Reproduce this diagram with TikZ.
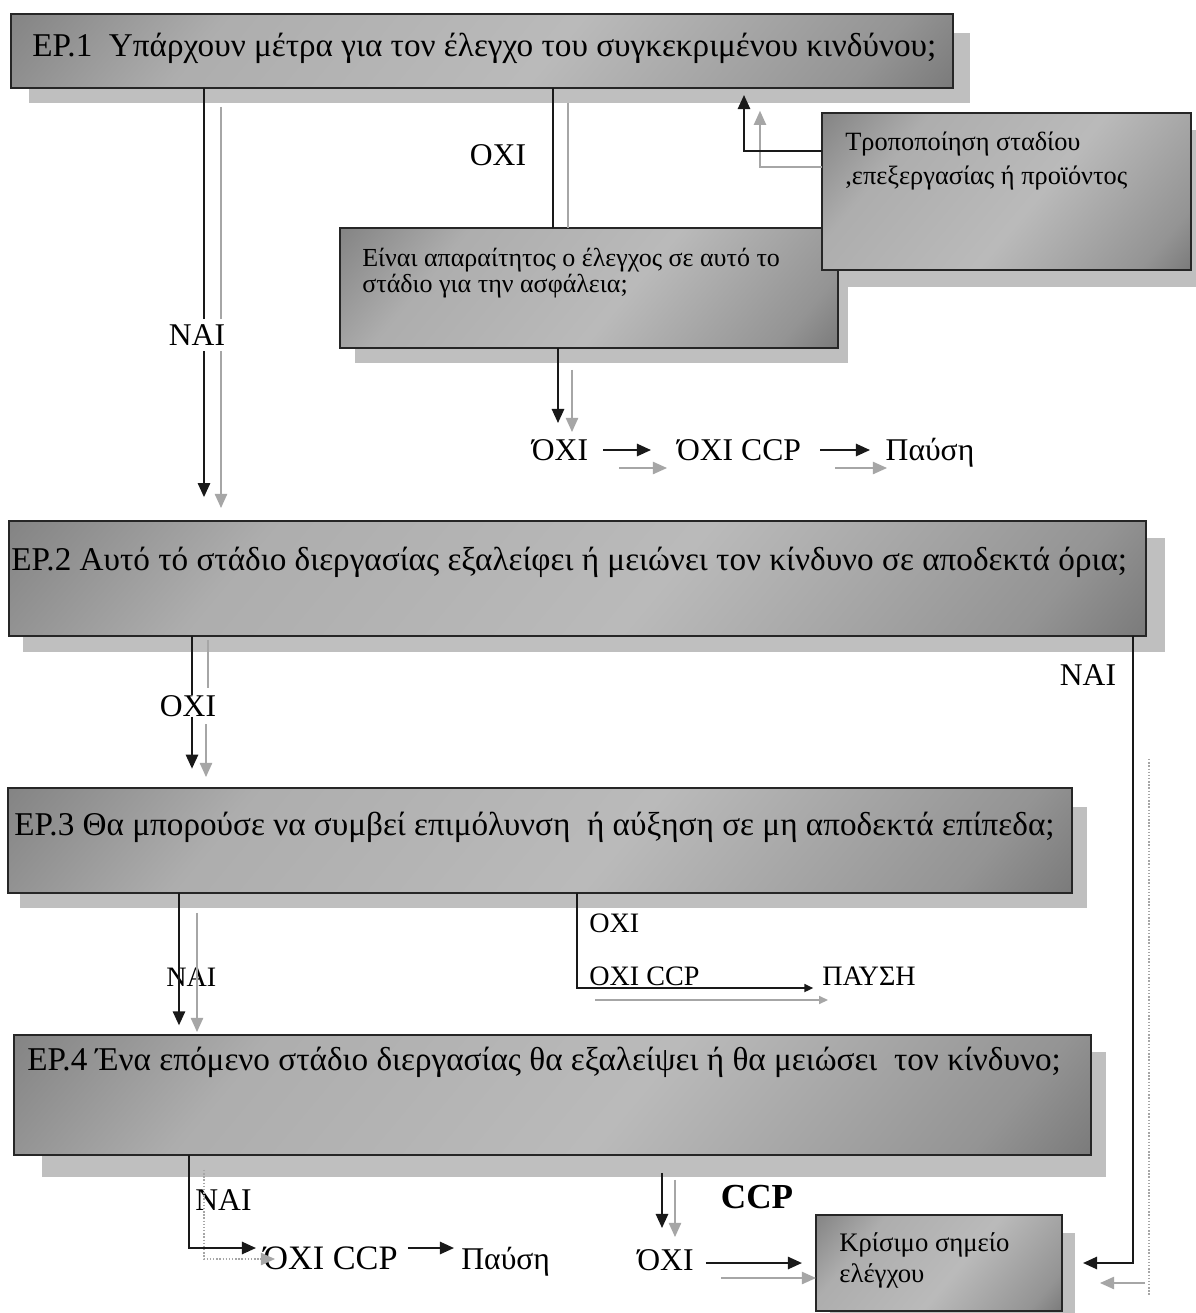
\documentclass[tikz,border=0pt]{standalone}
\usepackage{fontspec}
\setmainfont{Liberation Serif}
\usetikzlibrary{arrows.meta}
\pgfdeclarehorizontalshading{boxsh}{100bp}{color(0bp)=(black!64); color(30bp)=(black!32); color(55bp)=(black!27); color(78bp)=(black!42); color(100bp)=(black!72)}
\newcommand{\myfs}[2]{\fontsize{#1}{#2}\selectfont}
\begin{document}
\begin{tikzpicture}[x=0.02cm,y=-0.02cm,
  box/.style={draw=black!85,line width=0.9pt,shading=boxsh,shading angle=-40,anchor=north west,inner sep=0pt,outer sep=0pt},
  shad/.style={fill=black!25},
  lnk/.style={line width=1.1pt,draw=black!90},
  ghost/.style={line width=0.8pt,draw=black!35},
  tip/.style={-{Triangle[width=7pt,length=8pt]}},
  stip/.style={-{Triangle[width=4.5pt,length=5pt]}},
  big/.style={inner sep=0pt,anchor=west,font=\myfs{18.9}{22}},
  lbl/.style={inner sep=0pt,font=\myfs{18}{21}},
  sml/.style={inner sep=0pt,font=\myfs{16}{19}},
  boxtxt/.style={inner sep=0pt,anchor=west,align=left}
]
\fill[white] (0,0) rectangle (1196,1313);
\useasboundingbox (0,0) rectangle (1196,1313);

% shadows
\fill[shad] (29,33) rectangle (970,103);
\fill[shad] (355,245) rectangle (848,363);
\fill[shad] (23,538) rectangle (1165,652);
\fill[shad] (20,807) rectangle (1087,908);
\fill[shad] (42,1052) rectangle (1106,1177);
\fill[shad] (830,1233) rectangle (1075,1313);

% boxes
\node[box,minimum width=18.84cm,minimum height=1.48cm] (ep1) at (11,14) {};
\node[box,minimum width=9.96cm,minimum height=2.4cm] (mid) at (340,228) {};
\fill[shad] (839,130) rectangle (1196,287);
\node[box,minimum width=7.38cm,minimum height=3.14cm] (mod) at (822,113) {};
\node[box,minimum width=22.74cm,minimum height=2.3cm] (ep2) at (9,521) {};
\node[box,minimum width=21.28cm,minimum height=2.1cm] (ep3) at (8,788) {};
\node[box,minimum width=21.54cm,minimum height=2.4cm] (ep4) at (14,1035) {};
\node[box,minimum width=4.92cm,minimum height=1.92cm] (krit) at (816,1215) {};

% box texts
\node[big] (ep1t) at (32,48) {ΕΡ.1\ \ Υπάρχουν μέτρα για τον έλεγχο του συγκεκριμένου κινδύνου;};
\node[boxtxt,font=\myfs{15}{19.3}] (modt) at (845,161) {Τροποποίηση σταδίου\\,επεξεργασίας ή προϊόντος};
\node[boxtxt,font=\myfs{14.8}{15.2}] (midt) at (362,273) {Είναι απαραίτητος ο έλεγχος σε αυτό το\\στάδιο για την ασφάλεια;};
\node[big] (ep2t) at (11,562) {ΕΡ.2 Αυτό τό στάδιο διεργασίας εξαλείφει ή μειώνει τον κίνδυνο σε αποδεκτά όρια;};
\node[big] (ep3t) at (14,827) {ΕΡ.3 Θα μπορούσε να συμβεί επιμόλυνση\ \ ή αύξηση σε μη αποδεκτά επίπεδα;};
\node[big] (ep4t) at (27,1062) {ΕΡ.4 Ένα επόμενο στάδιο διεργασίας θα εξαλείψει ή θα μειώσει\ \ τον κίνδυνο;};
\node[boxtxt,font=\myfs{15.2}{17.6}] (kritt) at (839,1260) {Κρίσιμο σημείο\\ελέγχου};

% labels
\node[lbl,anchor=base] (oxiA) at (560,460) {ΌΧΙ};
\node[lbl,anchor=base] (oxiccpA) at (739,460) {ΌΧΙ CCP};
\node[lbl,anchor=base] (pausiA) at (930,460) {Παύση};
\node[lbl] (oxi1) at (498,155) {ΟΧΙ};
\node[lbl] (oxiB) at (188,706) {ΟΧΙ};
\node[lbl] (nai2) at (1088,675) {ΝΑΙ};
\node[sml,anchor=west] (nai3) at (166,977) {ΝΑΙ};
\node[sml,anchor=west] (oxiD) at (589,923) {ΟΧΙ};
\node[sml,anchor=base west] (oxiccpD) at (589,985) {ΟΧΙ CCP};
\node[sml,anchor=base west] (pausiD) at (822,985) {ΠΑΥΣΗ};
\node[lbl,anchor=west] (nai4) at (195,1200) {ΝΑΙ};
\node[lbl,anchor=base west,font=\myfs{19.5}{22}] (oxiccpC) at (263,1269) {ΌΧΙ CCP};
\node[lbl,anchor=base west] (pausiC) at (461,1269) {Παύση};
\node[inner sep=0pt,font=\bfseries\myfs{20}{24}] (ccp) at (757,1197) {CCP};
\node[lbl,anchor=base west] (oxiC) at (637,1270) {ΌΧΙ};

% EP.1 -> EP.2 (NAI)
\draw[ghost,tip] (ep1.south -| 221,0) ++(0,19) -- (221,508);
\draw[lnk,tip,shorten >=13.6pt] (ep1.south -| 204,0) -- (ep2.north -| 204,0);
\node[lbl,fill=white,inner sep=3pt] (nai1) at (197,335) {ΝΑΙ};

% EP.1 -> mid (OXI)
\draw[ghost] (ep1.south -| 568,0) ++(0,15) -- (mid.north -| 568,0);
\draw[lnk] (ep1.south -| 553,0) -- (mid.north -| 553,0);

% mod -> EP.1
\draw[ghost,tip,shorten >=13pt] (mod.west |- 0,167) -| (ep1.south -| 760,0);
\draw[lnk,tip,shorten >=4pt] (mod.west |- 0,151) -| (ep1.south -| 744,0);

% mid -> OXI row
\draw[ghost,tip] (mid.south -| 572,0) ++(0,22) -- (572,432);
\draw[lnk,tip] (mid.south -| 558,0) -- (558,423);
\draw[ghost,tip] (oxiA.east |- 0,468) ++(31,0) -- (667,468);
\draw[lnk,tip] (oxiA.east |- 0,450) ++(15,0) -- (651,450);
\draw[ghost,tip] (oxiccpA.east |- 0,468) ++(34,0) -- (887,468);
\draw[lnk,tip] (oxiccpA.east |- 0,450) ++(19,0) -- (870,450);

% EP.2 -> EP.3 (OXI)
\draw[ghost] (ep2.south -| 208,0) ++(0,4) -- (208,688);
\draw[ghost,tip] (206,724) -- (206,777);
\draw[lnk] (ep2.south -| 192,0) -- (oxiB.north -| 192,0);
\draw[lnk,tip,shorten >=11pt] (oxiB.south -| 192,0) -- (ep3.north -| 192,0);

% EP.2 -> krit (NAI)
\draw[ghost,densely dotted] (1149,759) -- (1149,1295);
\draw[ghost,tip] (1145,1283) -- (1100,1283);
\draw[lnk,tip,shorten >=12pt] (ep2.south -| 1133,0) |- (krit.east);

% EP.3 -> EP.4 (NAI)
\draw[ghost,tip] (ep3.south -| 197,0) ++(0,20) -- (197,1032);
\draw[lnk,tip,shorten >=5.5pt] (ep3.south -| 179,0) -- (ep4.north -| 179,0);

% EP.3 -> OXI CCP -> ΠΑΥΣΗ
\draw[ghost,stip] (595,1000) -- (828,1000);
\draw[lnk,stip,shorten >=5pt] (ep3.south -| 577,0) |- (pausiD.west |- 0,988);

% EP.4 NAI branch
\draw[ghost,densely dotted,tip] (ep4.south -| 204,0) ++(0,15) |- (275,1259);
\draw[lnk,tip,shorten >=4pt] (ep4.south -| 189,0) |- (oxiccpC.west |- 0,1248);
\draw[lnk,tip] (oxiccpC.east |- 0,1248) ++(10,0) -- (454,1248);

% EP.4 OXI branch
\draw[ghost,tip] (ep4.south -| 675,0) ++(0,25) -- (675,1237);
\draw[lnk,tip] (ep4.south -| 662,0) ++(0,18) -- (662,1228);
\draw[ghost,tip] (721,1278) -- (krit.west |- 0,1278);
\draw[lnk,tip,shorten >=8pt] (oxiC.east |- 0,1263) ++(12,0) -- (krit.west |- 0,1263);
\end{tikzpicture}
\end{document}
